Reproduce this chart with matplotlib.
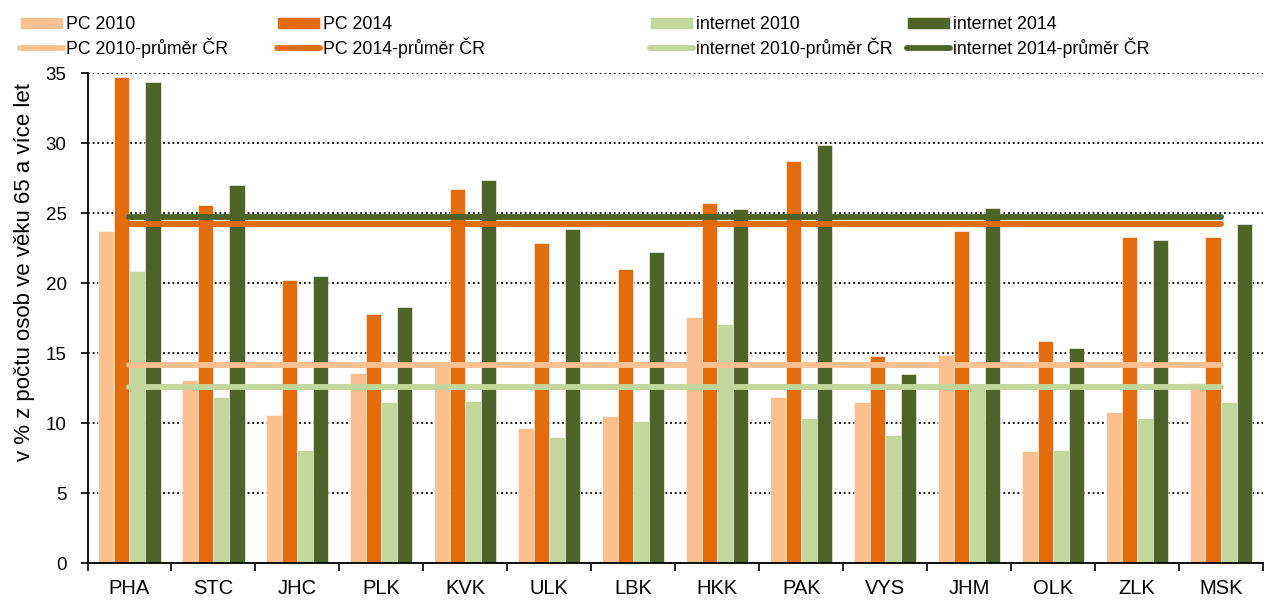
import numpy as np
import matplotlib
matplotlib.use("Agg")
import matplotlib.pyplot as plt

plt.rcParams['font.family'] = ['Liberation Sans', 'DejaVu Sans']

# kraje
regions = ["PHA", "STC", "JHC", "PLK", "KVK", "ULK", "LBK",
           "HKK", "PAK", "VYS", "JHM", "OLK", "ZLK", "MSK"]

# v % z počtu osob ve věku 65 a více let
pc_2010 = [23.7, 13.1, 10.6, 13.6, 14.3, 9.7, 10.5, 17.6, 11.9, 11.5, 14.9, 8.0, 10.8, 12.9]
pc_2014 = [34.7, 25.6, 20.2, 17.8, 26.7, 22.9, 21.0, 25.7, 28.7, 14.8, 23.7, 15.9, 23.3, 23.3]
inet_2010 = [20.9, 11.9, 8.1, 11.5, 11.6, 9.0, 10.2, 17.1, 10.4, 9.2, 12.8, 8.1, 10.4, 11.5]
inet_2014 = [34.4, 27.0, 20.5, 18.3, 27.4, 23.9, 22.2, 25.3, 29.9, 13.5, 25.4, 15.4, 23.1, 24.2]

# průměr ČR
avg_pc_2010 = 14.15
avg_pc_2014 = 24.25
avg_inet_2010 = 12.6
avg_inet_2014 = 24.7

c_pc10 = "#FAC090"
c_pc14 = "#E46C0A"
c_in10 = "#C3D69B"
c_in14 = "#4F6228"

W, H = 1271, 601
fig = plt.figure(figsize=(W / 100, H / 100), dpi=100)
ax = fig.add_axes([87.5 / W, (H - 563.3) / H, (1263 - 87.5) / W, (563.3 - 73.3) / H])

x = np.arange(len(regions))
bw = 0.185
series = [(pc_2010, c_pc10, "PC 2010"), (pc_2014, c_pc14, "PC 2014"),
          (inet_2010, c_in10, "internet 2010"), (inet_2014, c_in14, "internet 2014")]
bars = []
for i, (vals, col, lab) in enumerate(series):
    b = ax.bar(x + (i - 1.5) * bw, vals, bw, color=col, label=lab, zorder=2,
               edgecolor="white", linewidth=0.4)
    bars.append(b)

lines = []
for val, col, lab in [(avg_pc_2010, c_pc10, "PC 2010-průměr ČR"),
                      (avg_pc_2014, c_pc14, "PC 2014-průměr ČR"),
                      (avg_inet_2010, c_in10, "internet 2010-průměr ČR"),
                      (avg_inet_2014, c_in14, "internet 2014-průměr ČR")]:
    ln, = ax.plot([x[0], x[-1]], [val, val], color=col, lw=4.2,
                  solid_capstyle="round", label=lab, zorder=3)
    lines.append(ln)

ax.set_xlim(-0.5, len(regions) - 0.5)
ax.set_ylim(0, 35)
ax.set_yticks(range(0, 36, 5))
ax.grid(axis="y", color="black", linestyle=(0, (1, 1.6)), linewidth=1.3, zorder=0)
ax.set_axisbelow(True)

ax.set_xticks(np.arange(-0.5, len(regions), 1.0))
ax.set_xticklabels([])
ax.set_xticks(x, minor=True)
ax.set_xticklabels(regions, minor=True)
ax.tick_params(axis="x", which="major", direction="out", length=6, width=1.2)
ax.tick_params(axis="x", which="minor", length=0, pad=11, labelsize=14.5)
ax.tick_params(axis="y", direction="out", length=5, width=1.2, pad=10, labelsize=13.5)

for s in ["top", "right"]:
    ax.spines[s].set_visible(False)
for s in ["left", "bottom"]:
    ax.spines[s].set_linewidth(1.3)

fig.text(25 / W, 1 - 272 / H, "v % z počtu osob ve věku 65 a více let",
         rotation=90, ha="center", va="center", fontsize=16)

# legenda - čtyři sloupce s různými rozestupy
col_x = [20, 277, 650, 907]
for i in range(4):
    leg = fig.legend([bars[i], lines[i]], [bars[i].get_label(), lines[i].get_label()],
                     loc="upper left", bbox_to_anchor=(col_x[i] / W, 1 - 16 / H),
                     frameon=False, fontsize=12.8, borderpad=0, borderaxespad=0,
                     handlelength=2.4, handletextpad=0.2, labelspacing=0.28)

fig.savefig("out.png", dpi=100)
